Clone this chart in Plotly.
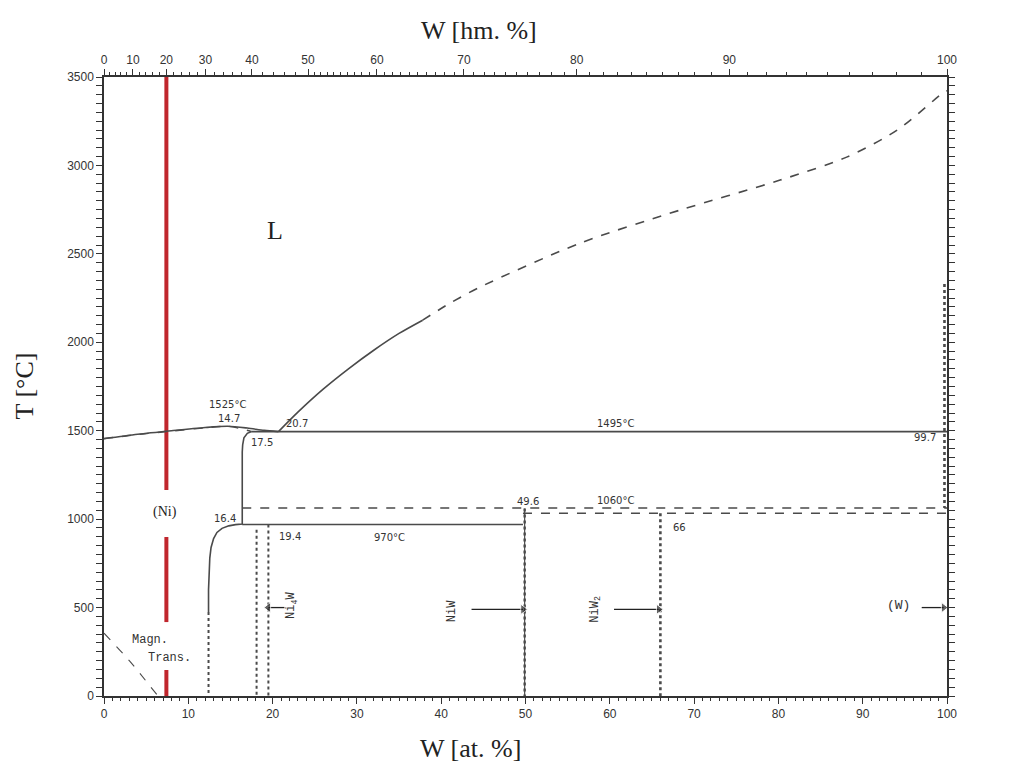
import plotly.graph_objects as go

# ---------------- data ----------------
liq_left_x = [0, 4, 8, 12, 14.7, 17, 19, 20.7]
liq_left_t = [1455, 1480, 1500, 1518, 1525, 1515, 1502, 1495]
sol_left_x = [0, 4, 8, 12, 14.7, 16.5, 17.5]
sol_left_t = [1455, 1478, 1498, 1516, 1525, 1508, 1495]
liq_solid_x = [20.7, 23, 26, 29, 32, 35, 37.8]
liq_solid_t = [1495, 1605, 1735, 1850, 1955, 2050, 2125]
liq_dash_x = [37.8, 41.0, 44.6, 56.5, 68.3, 80.2, 88.1, 94.1, 99.5, 100]
liq_dash_t = [2125, 2220, 2312, 2561, 2747, 2917, 3047, 3200, 3409, 3422]
ni_solvus_x = [17.5, 17.0, 16.6, 16.45, 16.4, 16.4, 15.6, 14.8, 14.0, 13.4, 13.0, 12.7, 12.55,
               12.45, 12.4, 12.4]
ni_solvus_t = [1495, 1485, 1460, 1420, 1380, 972, 969, 962, 948, 925, 890, 840, 780, 700, 600,
               475]
ni_solvus_dot_x = [12.4, 12.4]
ni_solvus_dot_t = [475, 0]
iso1495_x = [17.5, 100]; iso1495_t = [1495, 1495]
iso970_x = [16.4, 49.7]; iso970_t = [970, 970]
iso1060_x = [16.4, 100]; iso1060_t = [1063, 1063]
iso1035_x = [49.7, 100]; iso1035_t = [1033, 1033]
ni4w_a_x = [18.1, 18.1]; ni4w_a_t = [940, 0]
ni4w_b_x = [19.5, 19.5]; ni4w_b_t = [970, 0]
niw_x = [49.9, 49.9]; niw_t = [1060, 0]
niw2_x = [66.0, 66.0]; niw2_t = [1033, 0]
w_solvus_x = [99.7, 99.7]; w_solvus_t = [2330, 1063]
mag_x = [0, 3, 6.4]; mag_t = [355, 200, 0]
red_x = 7.4
red_segments = [(3500, 1165), (899, 418), (147, 0)]

# phase arrows: (tail x, head x, T)
arrows = [(21.4, 19.5, 500), (43.6, 49.7, 490), (60.5, 65.8, 490), (97.0, 99.6, 500)]

at_ticks = list(range(0, 101, 10))
wt_ticks = list(range(0, 101, 10))
wt_minor = list(range(0, 50, 2)) + list(range(50, 101, 1))
t_ticks = list(range(0, 3501, 500))

M_W, M_NI = 183.84, 58.693


def wt_to_at(w):
    if w <= 0:
        return 0.0
    if w >= 100:
        return 100.0
    nw = w / M_W
    nn = (100 - w) / M_NI
    return 100 * nw / (nw + nn)


GRAY = "#4a4a4a"
fig = go.Figure()


def line(x, y, dash="solid", width=1.6, color=GRAY, shape="linear"):
    fig.add_trace(go.Scatter(x=x, y=y, mode="lines",
                             line=dict(color=color, width=width, dash=dash, shape=shape,
                                       smoothing=0.8),
                             hoverinfo="skip", showlegend=False))


for top, bot in red_segments:
    line([red_x, red_x], [top, bot], width=4, color="#c0262d")

line(liq_left_x, liq_left_t, shape="spline")
line(sol_left_x, sol_left_t, dash="dash", width=1.4, shape="spline")
line(liq_solid_x, liq_solid_t, shape="spline")
line(liq_dash_x, liq_dash_t, dash="dash", shape="spline")
line(ni_solvus_x, ni_solvus_t)
line(ni_solvus_dot_x, ni_solvus_dot_t, dash="dot", width=2)
line(iso1495_x, iso1495_t)
line(iso970_x, iso970_t)
line(iso1060_x, iso1060_t, dash="dash")
line(iso1035_x, iso1035_t, dash="dash")
line(ni4w_a_x, ni4w_a_t, dash="dot", width=2)
line(ni4w_b_x, ni4w_b_t, dash="dot", width=2)
line(niw_x, niw_t, width=1.2)
line(niw_x, niw_t, dash="dot", width=2.4)
line(niw2_x, niw2_t, dash="dot", width=2.6)
line(w_solvus_x, w_solvus_t, dash="dot", width=2.6)
line(mag_x, mag_t, dash="dash", width=1.1, shape="spline")

for tail, head, t in arrows:
    sym = "triangle-right" if head > tail else "triangle-left"
    fig.add_trace(go.Scatter(x=[tail, head], y=[t, t], mode="lines+markers",
                             line=dict(color="#222", width=1.3),
                             marker=dict(symbol=["circle", sym], size=[0, 9], color="#222"),
                             hoverinfo="skip", showlegend=False))

fig.add_trace(go.Scatter(x=[0, 100], y=[0, 0], xaxis="x2", mode="lines",
                         line=dict(width=0), hoverinfo="skip", showlegend=False))

SMALL = dict(family="DejaVu Sans", size=10, color="#333")
MONO = dict(family="Liberation Mono", size=12, color="#333")
SERIF = dict(family="Liberation Serif", size=26, color="#222")

labels = [
    ("1525°C", 14.7, 1651, SMALL), ("14.7", 14.8, 1571, SMALL), ("20.7", 22.9, 1538, SMALL),
    ("17.5", 18.7, 1436, SMALL), ("1495°C", 60.7, 1543, SMALL), ("99.7", 97.4, 1464, SMALL),
    ("49.6", 50.3, 1102, SMALL), ("1060°C", 60.7, 1108, SMALL), ("16.4", 14.35, 1006, SMALL),
    ("19.4", 22.1, 904, SMALL), ("970°C", 33.9, 899, SMALL), ("66", 68.3, 955, SMALL),
    ("Magn.", 5.5, 317, MONO), ("Trans.", 7.8, 215, MONO),
    ("355°C", -3.8, 356, SMALL), ("1455°C", -3.8, 1425, SMALL), ("3422°C", 103.4, 3392, SMALL),
    ("Ni", 1.7, -266, dict(family="Liberation Mono", size=14, color="#333")),
    ("W", 101.3, -266, dict(family="Liberation Mono", size=14, color="#333")),
    ("(Ni)", 7.2, 1040, dict(family="Liberation Serif", size=14, color="#222")),
    ("(W)", 94.2, 514, dict(family="Liberation Mono", size=13, color="#333")),
    ("L", 20.3, 2634, dict(family="Liberation Serif", size=26, color="#222")),
]
for txt, x, y, f in labels:
    fig.add_annotation(x=x, y=y, text=txt, showarrow=False, font=f, xref="x", yref="y")

rot_labels = [("Ni<sub>4</sub>W", 22.3, 515), ("NiW", 41.3, 480), ("NiW<sub>2</sub>", 58.4, 490)]
for txt, x, y in rot_labels:
    fig.add_annotation(x=x, y=y, text=txt, showarrow=False, font=MONO, textangle=-90,
                       xref="x", yref="y")

fig.add_annotation(x=0.445, y=1.0, yshift=47, xref="paper", yref="paper", text="W [hm. %]",
                   showarrow=False, font=SERIF, xanchor="center", yanchor="middle")
fig.add_annotation(x=0.435, y=0.0, yshift=-52, xref="paper", yref="paper", text="W [at. %]",
                   showarrow=False, font=SERIF, xanchor="center", yanchor="middle")
fig.add_annotation(x=0.0, xshift=-80, y=0.5, xref="paper", yref="paper", text="T [°C]",
                   showarrow=False, font=SERIF, textangle=-90, xanchor="center", yanchor="middle")

TICKF = dict(family="Liberation Sans", size=12, color="#333")
fig.update_layout(
    width=1014, height=767, autosize=False,
    margin=dict(l=96, r=75, t=69, b=79, autoexpand=False),
    paper_bgcolor="white", plot_bgcolor="white",
    xaxis=dict(range=[0, 100], tickvals=at_ticks, ticks="outside", ticklen=6, tickwidth=1.2,
               tickcolor="#333", showline=True, linecolor="#333", linewidth=1.5, showgrid=False,
               zeroline=False, tickfont=TICKF, mirror=False,
               minor=dict(dtick=1, ticks="outside", ticklen=3, tickcolor="#333")),
    xaxis2=dict(range=[0, 100], overlaying="x", side="top", anchor="y",
                tickvals=[wt_to_at(w) for w in wt_ticks], ticktext=[str(w) for w in wt_ticks],
                ticks="outside", ticklen=6, tickwidth=1.2, tickcolor="#333", showline=True,
                linecolor="#333", linewidth=1.5, showgrid=False, zeroline=False, tickfont=TICKF,
                minor=dict(tickvals=[wt_to_at(w) for w in wt_minor], ticks="outside", ticklen=3,
                           tickcolor="#333")),
    yaxis=dict(range=[0, 3500], tickvals=t_ticks, ticks="outside", ticklen=6, tickwidth=1.2,
               tickcolor="#333", showline=True, linecolor="#333", linewidth=1.5, showgrid=False,
               zeroline=False, tickfont=TICKF, mirror="allticks",
               minor=dict(dtick=50, ticks="outside", ticklen=3, tickcolor="#333")),
)

fig.write_html("out.html")
